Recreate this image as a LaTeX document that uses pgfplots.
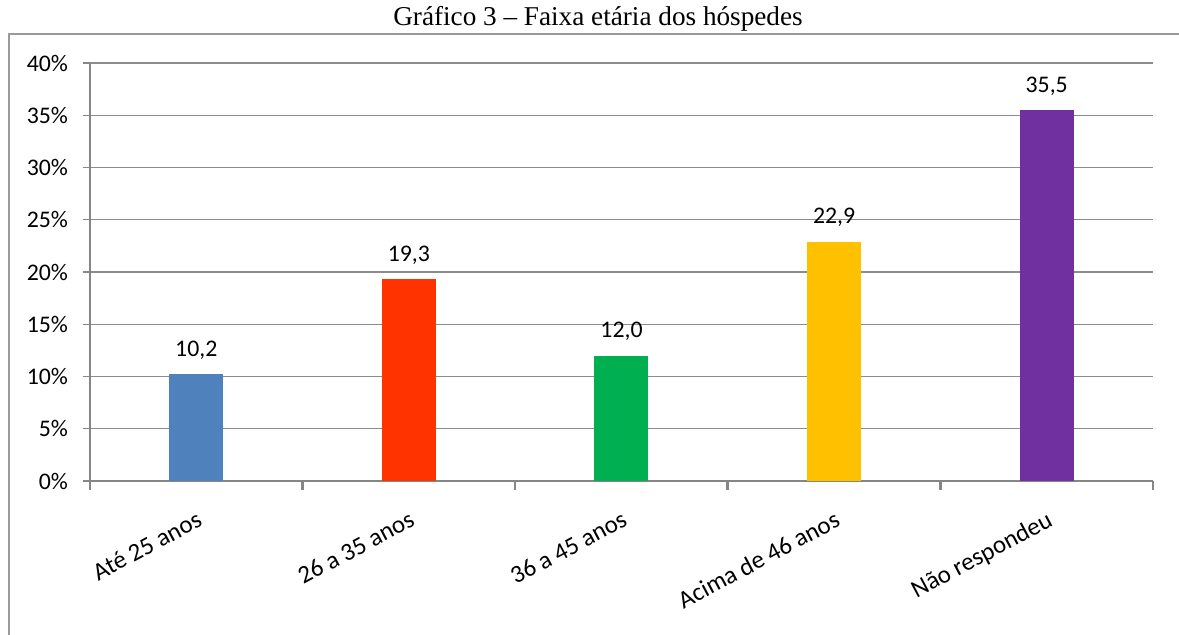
\documentclass[border=0pt]{standalone}
\usepackage{fontspec}
\setmainfont{Carlito}
\newfontfamily\titlefont{Liberation Serif}
\usepackage{pgfplots}
\pgfplotsset{compat=1.18}
\definecolor{cblue}{HTML}{4F81BD}
\definecolor{cred}{HTML}{FF3300}
\definecolor{cgreen}{HTML}{00B050}
\definecolor{cgold}{HTML}{FFC000}
\definecolor{cpurple}{HTML}{7030A0}
\definecolor{gridgray}{HTML}{8C8C8C}
\definecolor{axgray}{HTML}{868686}
\definecolor{framegray}{HTML}{9A9A9A}
\begin{document}
\begin{tikzpicture}
\path[use as bounding box] (0,0) rectangle (589.5pt,317.5pt);
\draw[framegray, line width=0.6pt] (4.5pt,0) -- (4.5pt,300.5pt) -- (589.5pt,300.5pt);
\node[anchor=base, font=\titlefont\fontsize{13.6}{16}\selectfont, inner sep=0pt] at (299pt,304.5pt) {Gráfico 3 – Faixa etária dos hóspedes};
\begin{axis}[
  at={(45pt,77pt)}, anchor=south west,
  width=531.5pt, height=209pt, scale only axis,
  xmin=-0.5, xmax=4.5, ymin=0, ymax=40,
  axis x line=bottom, axis y line=left,
  axis line style={axgray, line width=1.3pt, -},
  ytick={0,5,...,40},
  yticklabels={0\%,5\%,10\%,15\%,20\%,25\%,30\%,35\%,40\%},
  ymajorgrids, grid style={gridgray, line width=0.7pt},
  xtick={0,1,2,3,4},
  xticklabels={Até 25 anos,26 a 35 anos,36 a 45 anos,Acima de 46 anos,Não respondeu},
  minor xtick={-0.5,0.5,1.5,2.5,3.5,4.5},
  major tick length=3.5pt,
  x tick style={draw=none},
  minor x tick style={draw=axgray, line width=1.3pt},
  minor tick length=4.5pt,
  y tick style={axgray, line width=0.7pt},
  tick align=outside,
  ticklabel style={font=\fontsize{11.9}{14}\selectfont},
  /pgf/number format/assume math mode=true,
  yticklabel style={anchor=east, xshift=-4pt},
  xticklabel style={rotate=28, anchor=north east, xshift=-2pt, yshift=-6pt, font=\fontsize{12.5}{15}\selectfont},
  ybar, bar width=27pt, bar shift=0pt,
  clip=false,
  nodes near coords style={anchor=base, yshift=9pt, font=\fontsize{11.9}{14}\selectfont, text=black},
]
\addplot[fill=cblue, draw=none, nodes near coords={{10,2}}] coordinates {(0,10.2)};
\addplot[fill=cred, draw=none, nodes near coords={{19,3}}] coordinates {(1,19.3)};
\addplot[fill=cgreen, draw=none, nodes near coords={{12,0}}] coordinates {(2,12.0)};
\addplot[fill=cgold, draw=none, nodes near coords={{22,9}}] coordinates {(3,22.9)};
\addplot[fill=cpurple, draw=none, nodes near coords={{35,5}}] coordinates {(4,35.5)};
\end{axis}
\end{tikzpicture}
\end{document}
